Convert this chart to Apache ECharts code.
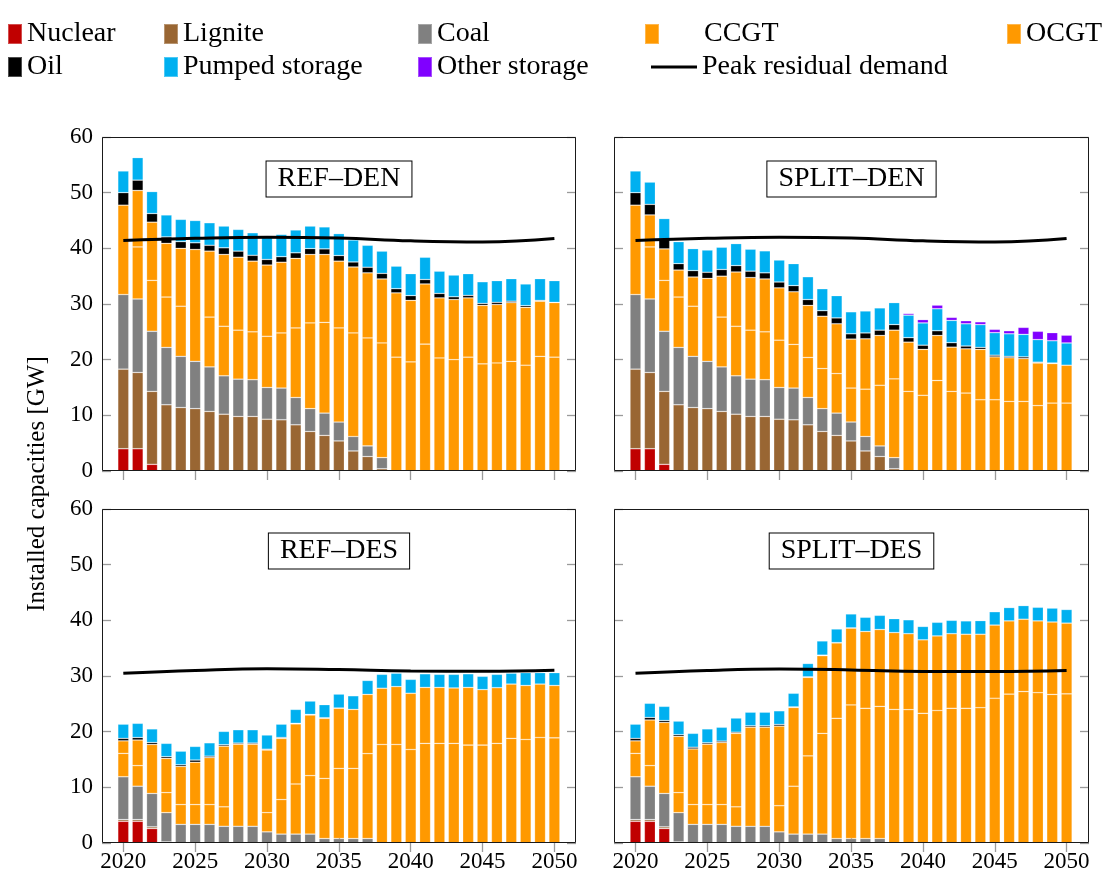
<!DOCTYPE html>
<html>
<head>
<meta charset="utf-8">
<script src="https://cdn.jsdelivr.net/npm/echarts@6/dist/echarts.min.js"></script>
<style>
  html, body { margin: 0; padding: 0; background: #fff; }
  #chart { width: 1103px; height: 877px; }
</style>
</head>
<body>
<div id="chart"></div>
<script>
// Years and axis ticks
const years = [2020, 2021, 2022, 2023, 2024, 2025, 2026, 2027, 2028, 2029, 2030,
  2031, 2032, 2033, 2034, 2035, 2036, 2037, 2038, 2039, 2040,
  2041, 2042, 2043, 2044, 2045, 2046, 2047, 2048, 2049, 2050];
const yearTicks = [2020, 2025, 2030, 2035, 2040, 2045, 2050];
const capacityTicks = [0, 10, 20, 30, 40, 50, 60];
const panelNames = ['REF–DEN', 'SPLIT–DEN', 'REF–DES', 'SPLIT–DES'];
const techNames = ['Nuclear', 'Lignite', 'Coal', 'CCGT', 'OCGT', 'Oil', 'Pumped storage', 'Other storage'];

// REF–DEN installed capacities [GW]
const refDenNuclear = [4.0, 4.0, 1.2, 0, 0, 0, 0, 0, 0, 0, 0, 0, 0, 0, 0, 0, 0, 0, 0, 0, 0, 0, 0, 0, 0, 0, 0, 0, 0, 0, 0];
const refDenLignite = [14.3, 13.7, 13.1, 11.9, 11.4, 11.2, 10.7, 10.2, 9.8, 9.8, 9.3, 9.2, 8.3, 7.1, 6.4, 5.4, 3.6, 2.6, 0.4, 0, 0, 0, 0, 0, 0, 0, 0, 0, 0, 0, 0];
const refDenCoal = [13.4, 13.2, 10.8, 10.3, 9.2, 8.5, 8.0, 6.9, 6.7, 6.6, 5.7, 5.7, 4.9, 4.1, 4.0, 3.4, 2.6, 1.9, 2.0, 0, 0, 0, 0, 0, 0, 0, 0, 0, 0, 0, 0];
const refDenCCGT = [16.05, 9.35, 9.15, 9.05, 9.0, 20.1, 8.95, 8.9, 8.8, 8.6, 9.2, 9.9, 12.5, 15.4, 16.3, 16.9, 18.6, 19.4, 20.6, 20.45, 19.6, 22.8, 20.3, 20.0, 20.45, 19.25, 19.4, 19.7, 19.0, 20.6, 20.45];
const refDenOCGT = [0, 10.15, 10.45, 9.65, 10.4, 0, 11.85, 12.9, 13.1, 12.7, 12.8, 12.7, 12.5, 12.3, 12.2, 12.0, 11.85, 11.7, 11.5, 11.55, 11.05, 10.8, 10.8, 10.8, 10.65, 10.5, 10.5, 10.55, 10.4, 9.9, 9.8];
const refDenOil = [2.25, 1.85, 1.55, 1.15, 1.2, 1.2, 1.05, 1.2, 1.1, 1.05, 1.0, 1.0, 1.0, 1.05, 1.0, 1.0, 0.9, 1.0, 1.0, 0.75, 0.85, 0.8, 0.8, 0.5, 0.45, 0.35, 0.4, 0.25, 0.3, 0.15, 0.05];
const refDenPumped = [3.9, 4.05, 3.95, 3.95, 4.0, 4.0, 4.05, 3.9, 3.9, 4.05, 4.05, 4.0, 4.1, 4.05, 3.95, 3.95, 3.95, 3.95, 4.0, 4.05, 3.95, 4.0, 4.0, 3.9, 3.9, 3.9, 3.9, 4.05, 3.9, 3.9, 3.9];
const refDenOther = [0, 0, 0, 0, 0, 0, 0, 0, 0, 0, 0, 0, 0, 0, 0, 0, 0, 0, 0, 0, 0, 0, 0, 0, 0, 0, 0, 0, 0, 0, 0];

// SPLIT–DEN installed capacities [GW]
const splitDenNuclear = [4.0, 4.0, 1.2, 0, 0, 0, 0, 0, 0, 0, 0, 0, 0, 0, 0, 0, 0, 0, 0, 0, 0, 0, 0, 0, 0, 0, 0, 0, 0, 0, 0];
const splitDenLignite = [14.3, 13.7, 13.1, 11.9, 11.4, 11.2, 10.7, 10.2, 9.8, 9.8, 9.3, 9.2, 8.3, 7.1, 6.4, 5.4, 3.6, 2.6, 0.4, 0, 0, 0, 0, 0, 0, 0, 0, 0, 0, 0, 0];
const splitDenCoal = [13.4, 13.2, 10.8, 10.3, 9.2, 8.5, 8.0, 6.9, 6.7, 6.6, 5.7, 5.7, 4.9, 4.1, 4.0, 3.4, 2.6, 1.9, 2.0, 0, 0, 0, 0, 0, 0, 0, 0, 0, 0, 0, 0];
const splitDenCCGT = [16.05, 9.35, 9.15, 9.05, 9.0, 14.9, 8.95, 8.9, 8.8, 8.6, 8.5, 7.85, 7.2, 7.2, 7.1, 6.1, 8.5, 10.9, 14.15, 14.3, 13.6, 16.25, 14.3, 14.0, 12.8, 12.8, 12.5, 12.5, 11.75, 12.2, 12.2];
const splitDenOCGT = [0, 5.75, 5.65, 4.85, 5.25, 0, 7.35, 9.75, 9.45, 9.5, 9.4, 9.45, 9.35, 9.4, 8.95, 8.8, 9.05, 8.95, 8.75, 8.85, 8.25, 8.1, 7.95, 7.95, 9.05, 7.7, 7.85, 7.7, 7.65, 7.1, 6.8];
const splitDenOil = [2.25, 1.9, 1.8, 1.15, 1.15, 1.1, 1.2, 1.15, 1.15, 1.1, 1.05, 1.1, 1.05, 1.0, 1.05, 0.95, 1.05, 0.95, 1.0, 0.8, 0.75, 0.85, 0.8, 0.5, 0.35, 0.3, 0.25, 0.3, 0.15, 0.1, 0];
const splitDenPumped = [3.9, 4.0, 3.65, 3.95, 3.95, 4.0, 4.0, 3.95, 3.95, 3.95, 3.95, 3.95, 4.1, 3.95, 4.0, 3.95, 3.95, 4.0, 3.95, 4.05, 4.0, 3.95, 4.0, 4.0, 4.1, 4.05, 4.05, 4.05, 4.05, 4.0, 4.0];
const splitDenOther = [0, 0, 0, 0, 0, 0, 0, 0, 0, 0, 0, 0, 0, 0, 0, 0, 0, 0, 0, 0.3, 0.6, 0.65, 0.55, 0.55, 0.5, 0.6, 0.55, 1.25, 1.5, 1.45, 1.4];

// REF–DES installed capacities [GW]
const refDesNuclear = [3.9, 3.9, 2.6, 0, 0, 0, 0, 0, 0, 0, 0, 0, 0, 0, 0, 0, 0, 0, 0, 0, 0, 0, 0, 0, 0, 0, 0, 0, 0, 0, 0];
const refDesLignite = [0.3, 0.3, 0.3, 0.2, 0, 0, 0, 0, 0, 0, 0, 0, 0, 0, 0, 0, 0, 0, 0, 0, 0, 0, 0, 0, 0, 0, 0, 0, 0, 0, 0];
const refDesCoal = [7.7, 6.0, 6.0, 5.25, 3.35, 3.35, 3.35, 3.0, 3.0, 3.0, 2.0, 1.6, 1.6, 1.6, 0.8, 0.8, 0.8, 0.8, 0, 0, 0, 0, 0, 0, 0, 0, 0, 0, 0, 0, 0];
const refDesCCGT = [4.2, 3.7, 8.8, 3.6, 3.55, 3.55, 3.55, 3.5, 14.75, 14.75, 3.45, 6.2, 9.0, 10.5, 10.8, 12.6, 12.6, 15.25, 17.7, 17.7, 16.8, 17.9, 17.9, 17.9, 17.6, 17.6, 17.9, 18.8, 18.6, 18.95, 18.9];
const refDesOCGT = [2.25, 4.6, 0, 6.15, 6.85, 7.6, 8.45, 10.9, 0, 0, 11.25, 11.0, 10.8, 10.9, 10.8, 10.8, 10.6, 10.65, 10.1, 10.4, 10.1, 10.05, 10.05, 9.95, 10.35, 9.95, 10.0, 9.75, 9.7, 9.6, 9.4];
const refDesOil = [0.45, 0.45, 0.35, 0.3, 0.3, 0.4, 0.25, 0.25, 0.2, 0.2, 0.15, 0.15, 0.1, 0.1, 0.1, 0.05, 0, 0, 0, 0, 0, 0, 0, 0, 0, 0, 0, 0, 0, 0, 0];
const refDesPumped = [2.55, 2.55, 2.45, 2.4, 2.45, 2.45, 2.4, 2.4, 2.4, 2.4, 2.55, 2.4, 2.5, 2.4, 2.35, 2.5, 2.45, 2.5, 2.5, 2.4, 2.5, 2.45, 2.35, 2.45, 2.45, 2.4, 2.4, 1.95, 2.3, 2.05, 2.3];
const refDesOther = [0, 0, 0, 0, 0, 0, 0, 0, 0, 0, 0, 0, 0, 0, 0, 0, 0, 0, 0, 0, 0, 0, 0, 0, 0, 0, 0, 0, 0, 0, 0];

// SPLIT–DES installed capacities [GW]
const splitDesNuclear = [3.9, 3.9, 2.6, 0, 0, 0, 0, 0, 0, 0, 0, 0, 0, 0, 0, 0, 0, 0, 0, 0, 0, 0, 0, 0, 0, 0, 0, 0, 0, 0, 0];
const splitDesLignite = [0.3, 0.3, 0.3, 0.2, 0, 0, 0, 0, 0, 0, 0, 0, 0, 0, 0, 0, 0, 0, 0, 0, 0, 0, 0, 0, 0, 0, 0, 0, 0, 0, 0];
const splitDesCoal = [7.7, 6.0, 6.0, 5.25, 3.35, 3.35, 3.35, 3.0, 3.0, 3.0, 2.0, 1.6, 1.6, 1.6, 0.8, 0.8, 0.8, 0.8, 0, 0, 0, 0, 0, 0, 0, 0, 0, 0, 0, 0, 0];
const splitDesCCGT = [4.2, 3.7, 12.75, 3.6, 3.55, 3.55, 3.55, 3.5, 17.8, 17.8, 4.7, 8.6, 14.05, 18.1, 21.6, 24.0, 23.4, 23.75, 24.0, 23.95, 23.3, 23.8, 24.2, 24.2, 24.3, 26.0, 26.75, 27.2, 27.0, 26.7, 26.8];
const splitDesOCGT = [2.25, 8.2, 0, 10.1, 10.0, 10.85, 11.15, 13.2, 0, 0, 14.3, 14.15, 14.1, 13.95, 13.55, 13.8, 13.8, 13.8, 13.8, 13.65, 13.2, 13.4, 13.4, 13.3, 13.2, 13.15, 13.15, 13.0, 12.9, 13.0, 12.7];
const splitDesOil = [0.45, 0.45, 0.35, 0.3, 0.3, 0.25, 0.25, 0.2, 0.25, 0.25, 0.3, 0.1, 0.1, 0.1, 0.05, 0.05, 0, 0, 0, 0, 0, 0, 0, 0, 0, 0, 0, 0, 0, 0, 0];
const splitDesPumped = [2.55, 2.55, 2.55, 2.45, 2.5, 2.5, 2.5, 2.55, 2.45, 2.45, 2.45, 2.45, 2.4, 2.55, 2.45, 2.5, 2.55, 2.55, 2.5, 2.5, 2.4, 2.45, 2.4, 2.4, 2.45, 2.4, 2.4, 2.45, 2.45, 2.5, 2.45];
const splitDesOther = [0, 0, 0, 0, 0, 0, 0, 0, 0, 0, 0, 0, 0, 0, 0, 0, 0, 0, 0, 0, 0, 0, 0, 0, 0, 0, 0, 0, 0, 0, 0];

// Peak residual demand [GW]
const peakYears = [2020, 2025, 2030, 2035, 2040, 2045, 2050];
const refDenPeak = [41.4, 41.8, 42.0, 41.85, 41.35, 41.15, 41.75];
const splitDenPeak = [41.4, 41.8, 42.0, 41.85, 41.35, 41.15, 41.75];
const refDesPeak = [30.5, 31.0, 31.3, 31.15, 30.9, 30.85, 31.05];
const splitDesPeak = [30.5, 31.0, 31.25, 31.1, 30.8, 30.8, 31.0];

const panelData = [
  { techs: [refDenNuclear, refDenLignite, refDenCoal, refDenCCGT, refDenOCGT, refDenOil, refDenPumped, refDenOther], peak: refDenPeak },
  { techs: [splitDenNuclear, splitDenLignite, splitDenCoal, splitDenCCGT, splitDenOCGT, splitDenOil, splitDenPumped, splitDenOther], peak: splitDenPeak },
  { techs: [refDesNuclear, refDesLignite, refDesCoal, refDesCCGT, refDesOCGT, refDesOil, refDesPumped, refDesOther], peak: refDesPeak },
  { techs: [splitDesNuclear, splitDesLignite, splitDesCoal, splitDesCCGT, splitDesOCGT, splitDesOil, splitDesPumped, splitDesOther], peak: splitDesPeak }
];

const techColors = ['#c00000', '#996633', '#808080', '#ff9900', '#ff9900', '#000000', '#00b0f0', '#8000ff'];
const serif = '"Liberation Serif", "DejaVu Serif", serif';

// framed plot boxes: top-left, top-right, bottom-left, bottom-right
const frames = [
  { left: 102, top: 137, width: 474, height: 334 },
  { left: 614, top: 137, width: 475, height: 334 },
  { left: 102, top: 509, width: 474, height: 334 },
  { left: 614, top: 509, width: 475, height: 334 }
];
// the year bands sit inside each frame with a margin on both sides
const bandWidth = 14.37;
const firstBarCenter = [123.3, 635.5, 123.3, 635.5];

const tickStyle = { color: '#9a9a9a', width: 1.3 };
const isTickYear = (idx, val) => yearTicks.includes(Number(val));
const grid = [], xAxis = [], yAxis = [], series = [], graphic = [];

frames.forEach((f, i) => {
  const gLeft = firstBarCenter[i] - bandWidth / 2;
  const gWidth = bandWidth * years.length;
  const offLeft = gLeft - f.left;
  const offRight = (f.left + f.width) - (gLeft + gWidth);
  grid.push({ left: gLeft, top: f.top, width: gWidth, height: f.height, show: false });

  const bottomRow = i >= 2;
  const leftCol = i % 2 === 0;
  ['bottom', 'top'].forEach(pos => {
    xAxis.push({
      type: 'category', gridIndex: i, position: pos, data: years.map(String),
      boundaryGap: true,
      axisLine: { show: false }, splitLine: { show: false },
      axisTick: { show: true, inside: true, length: 9, alignWithLabel: true, interval: isTickYear, lineStyle: tickStyle },
      axisLabel: {
        show: pos === 'bottom' && bottomRow, interval: isTickYear, margin: 7,
        fontFamily: serif, fontSize: 23, color: '#000'
      }
    });
  });
  ['left', 'right'].forEach(pos => {
    yAxis.push({
      type: 'value', gridIndex: i, position: pos, min: 0, max: 60, interval: 10,
      offset: pos === 'left' ? offLeft : offRight,
      axisLine: { show: false }, splitLine: { show: false },
      axisTick: { show: true, inside: true, length: 9, lineStyle: tickStyle },
      axisLabel: {
        show: pos === 'left' && leftCol, margin: 9,
        fontFamily: serif, fontSize: 23, color: '#000',
        formatter: v => capacityTicks.includes(v) ? String(v) : ''
      }
    });
  });

  const p = panelData[i];
  p.techs.forEach((arr, k) => {
    series.push({
      name: techNames[k], type: 'bar', stack: 'panel' + i,
      xAxisIndex: 2 * i, yAxisIndex: 2 * i,
      barWidth: 11,
      itemStyle: { color: techColors[k], borderColor: 'rgba(255,255,255,0.3)', borderWidth: 0.7 },
      emphasis: { disabled: true },
      data: arr.map(v => (v > 0 ? v : '-'))
    });
  });
  series.push({
    name: 'Peak residual demand', type: 'line',
    xAxisIndex: 2 * i, yAxisIndex: 2 * i,
    smooth: 0.45, symbol: 'none', z: 5, connectNulls: true,
    lineStyle: { color: '#000', width: 3 },
    itemStyle: { color: '#000' },
    emphasis: { disabled: true },
    data: years.map(y => {
      const j = peakYears.indexOf(y);
      return j >= 0 ? p.peak[j] : '-';
    })
  });

  // plot frame
  graphic.push({
    type: 'rect', z: 50, silent: true,
    shape: { x: f.left + 0.5, y: f.top + 0.5, width: f.width - 1, height: f.height - 1 },
    style: { fill: 'none', stroke: '#1a1a1a', lineWidth: 1 }
  });
  // scenario label box
  graphic.push({
    type: 'text', z: 100,
    x: f.left + f.width / 2, y: f.top + 42,
    style: {
      text: panelNames[i], font: '28px ' + serif, fill: '#000',
      align: 'center', verticalAlign: 'middle',
      backgroundColor: '#fff', borderColor: '#000', borderWidth: 1,
      padding: [4, 11, 3, 11], lineHeight: 28
    }
  });
});

graphic.push({
  type: 'text', x: 37, y: 484, rotation: Math.PI / 2,
  style: {
    text: 'Installed capacities [GW]', font: '25px ' + serif, fill: '#000',
    align: 'center', verticalAlign: 'middle'
  }
});

// legend entries laid out in two rows
const legendText = { fontFamily: serif, fontSize: 28, color: '#000' };
const legendItems = [
  { name: 'Nuclear', left: 7, top: 20 },
  { name: 'Lignite', left: 163, top: 20 },
  { name: 'Coal', left: 417, top: 20 },
  { name: 'CCGT', left: 644, top: 20, pad: 40 },
  { name: 'OCGT', left: 1006, top: 20 },
  { name: 'Oil', left: 7, top: 53 },
  { name: 'Pumped storage', left: 163, top: 53 },
  { name: 'Other storage', left: 417, top: 53 },
  { name: 'Peak residual demand', left: 651, top: 53, line: true }
];
const legend = legendItems.map(it => ({
  data: [it.name], left: it.left, top: it.top, padding: 0,
  selectedMode: false, icon: 'rect',
  itemWidth: it.line ? 46 : 14, itemHeight: it.line ? 3 : 20,
  textStyle: Object.assign({}, legendText, it.pad ? { padding: [0, 0, 0, it.pad] } : {})
}));

const chart = echarts.init(document.getElementById('chart'), null, { renderer: 'canvas' });
chart.setOption({
  animation: false,
  backgroundColor: '#fff',
  legend, grid, xAxis, yAxis, series, graphic
});
</script>
</body>
</html>
